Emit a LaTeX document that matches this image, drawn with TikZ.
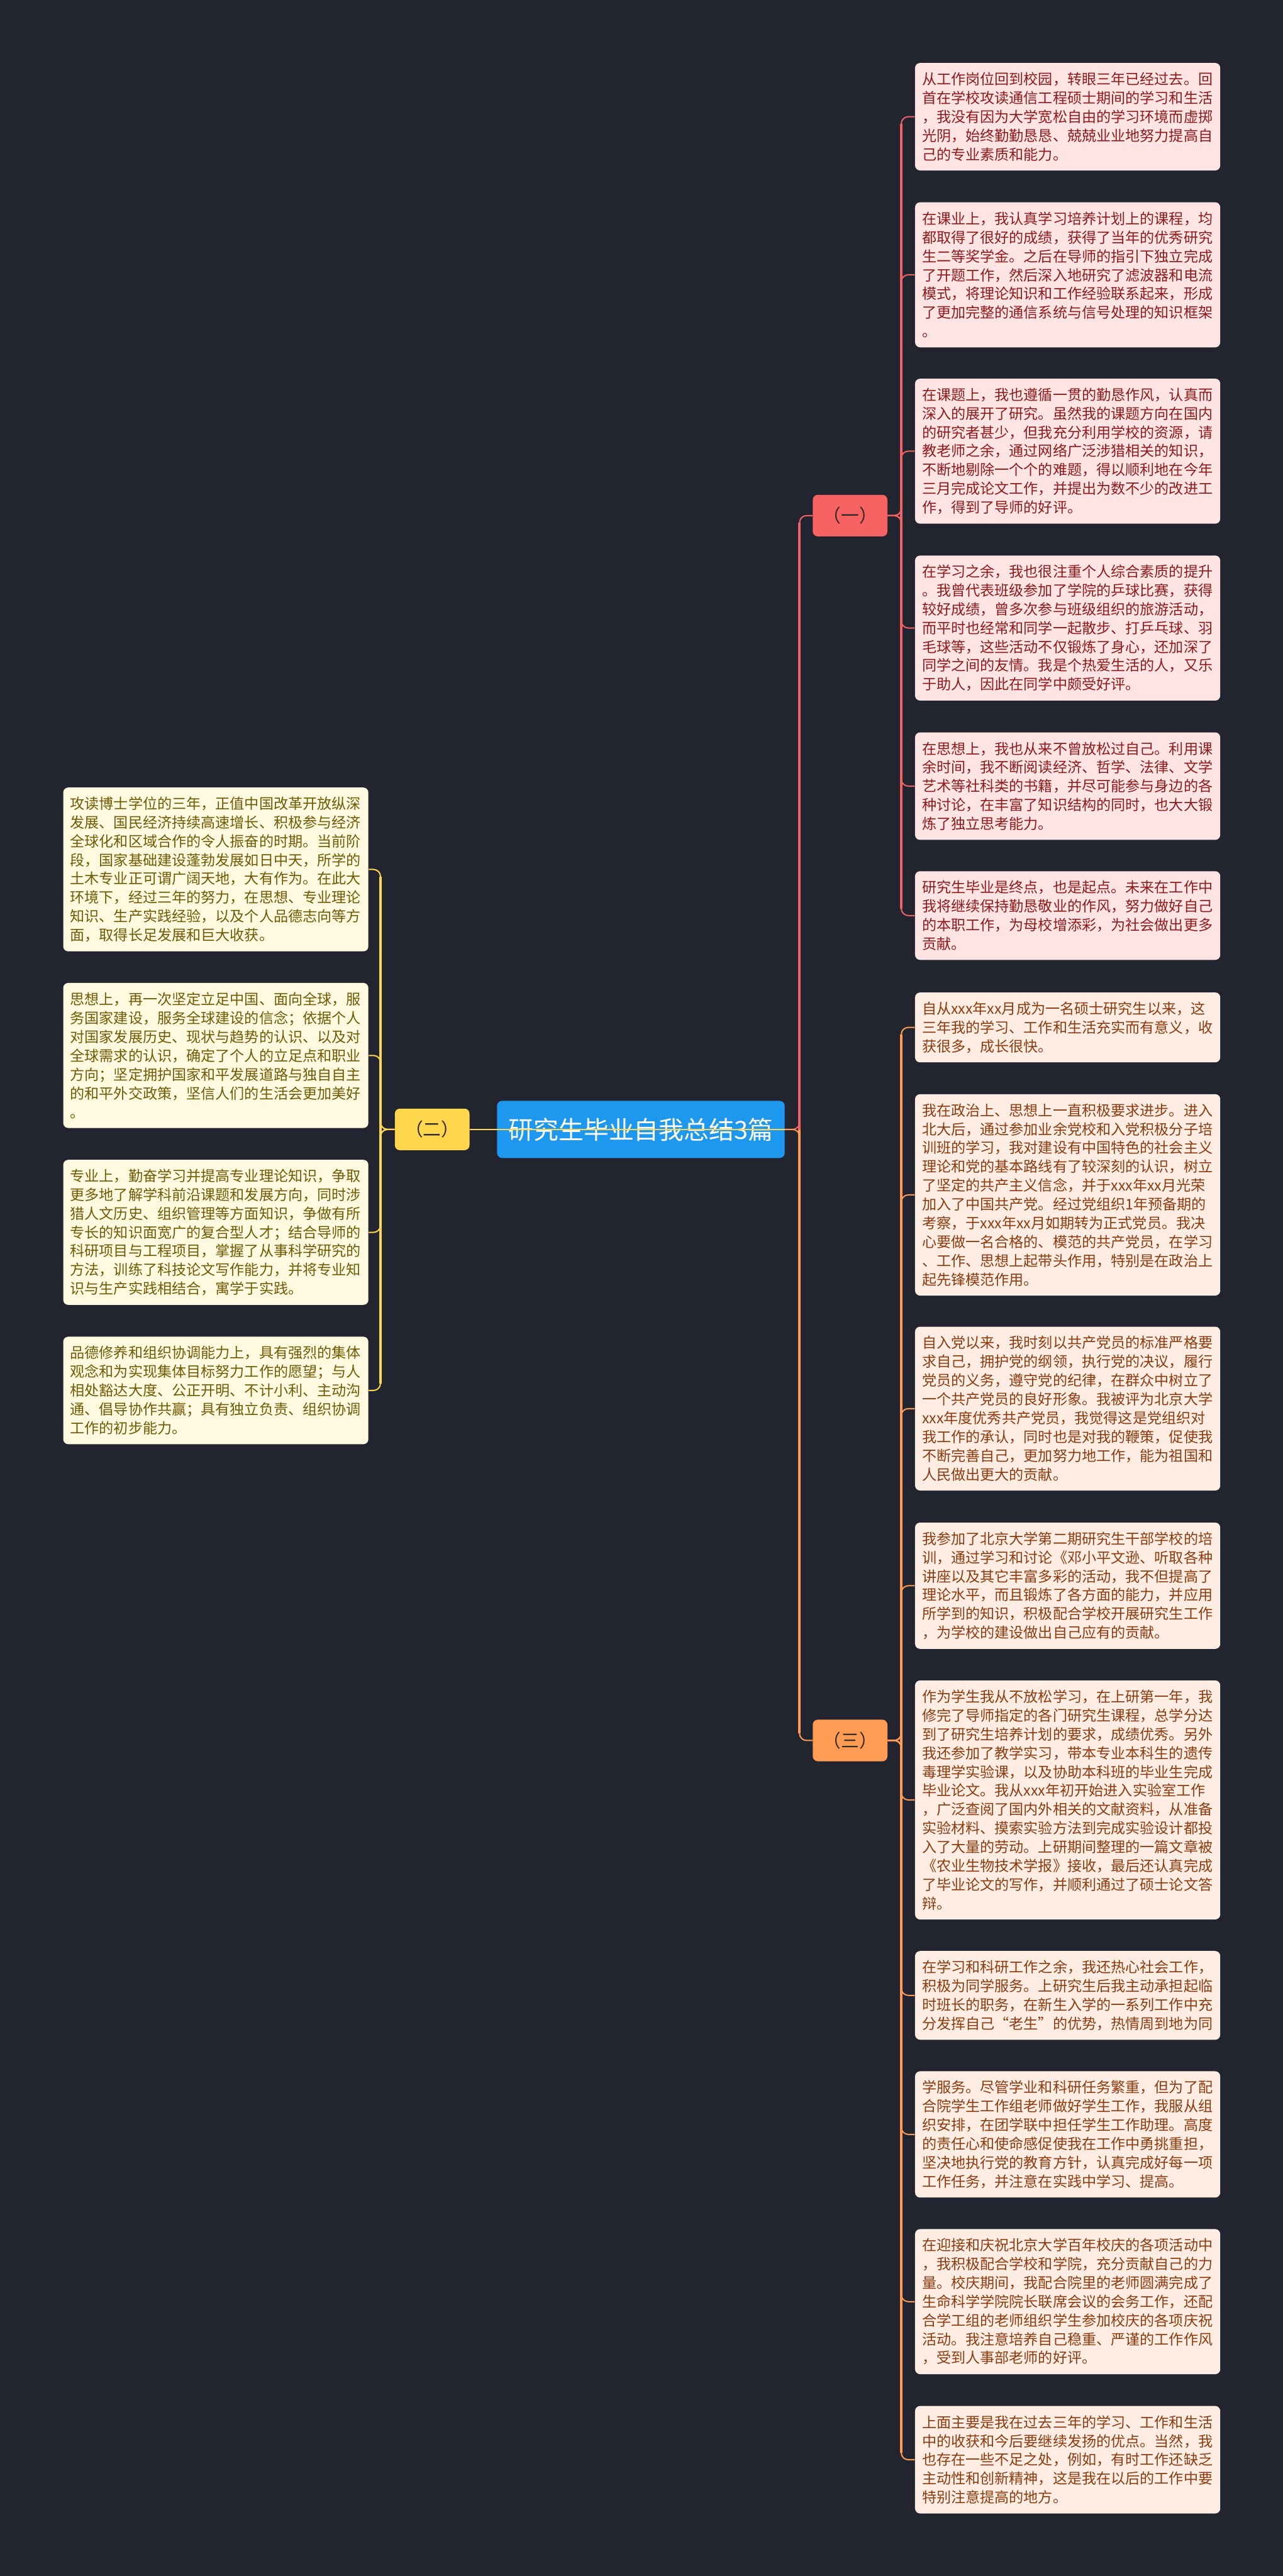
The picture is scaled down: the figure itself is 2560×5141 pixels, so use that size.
\documentclass[tikz,border=0pt]{standalone}
\usepackage{fontspec}
\setmainfont{Noto Sans CJK SC}
\usetikzlibrary{calc}
\definecolor{bgc}{HTML}{222530}
\definecolor{pinkfill}{HTML}{FFE4E4}
\definecolor{redtext}{HTML}{8E1B1B}
\definecolor{peachfill}{HTML}{FFEDE3}
\definecolor{browntext}{HTML}{8A3C10}
\definecolor{creamfill}{HTML}{FFF9DF}
\definecolor{olivetext}{HTML}{6F5B06}
\definecolor{tagred}{HTML}{F76262}
\definecolor{tagyellow}{HTML}{FFD64C}
\definecolor{tagorange}{HTML}{FF9B52}
\definecolor{titleblue}{HTML}{1E98EE}
\definecolor{tagtext}{HTML}{2E2A2A}
\definecolor{redline}{HTML}{F26262}
\definecolor{orangeline}{HTML}{FF9B52}
\definecolor{yellowline}{HTML}{FFD64C}
\begin{document}
\begin{tikzpicture}[x=0.3pt,y=-0.3pt,
  leaf/.style={anchor=north west, rounded corners=3pt, inner xsep=4.2pt, inner ysep=0pt,
    text width=174.3pt, align=left, font=\fontsize{8.7pt}{11.25pt}\selectfont},
  nlines/.style={minimum height=11.25pt*#1+8.1pt},
  redleaf/.style={leaf, fill=pinkfill, text=redtext},
  orangeleaf/.style={leaf, fill=peachfill, text=browntext},
  yellowleaf/.style={leaf, fill=creamfill, text=olivetext},
  tag/.style={rounded corners=3pt, minimum width=44.7pt, minimum height=24.9pt, inner sep=0pt,
    text=tagtext, font=\fontsize{10.8pt}{13pt}\selectfont},
  titlebox/.style={rounded corners=3pt, fill=titleblue, text=white, minimum width=172.2pt,
    minimum height=34.2pt, inner sep=0pt, font=\fontsize{15pt}{18pt}\selectfont},
  link/.style={line width=0.75pt, rounded corners=4.2pt},
  trunk/.style={line width=1.5pt},
]
\useasboundingbox (0,0) rectangle (2560,5141);
\fill[bgc] (0,0) rectangle (2560,5141);

% central and branch nodes
\node[titlebox] (title) at (1279,2254) {研究生毕业自我总结3篇};
\node[tag, fill=tagred] (one) at (1696.5,1029) {（一）};
\node[tag, fill=tagyellow] (two) at (862.5,2254) {（二）};
\node[tag, fill=tagorange] (three) at (1696.5,3473.5) {（三）};

% branch (一)
\node[redleaf, nlines=5] (r1) at (1825.5,125) {从工作岗位回到校园，转眼三年已经过去。回\\首在学校攻读通信工程硕士期间的学习和生活\\，我没有因为大学宽松自由的学习环境而虚掷\\光阴，始终勤勤恳恳、兢兢业业地努力提高自\\己的专业素质和能力。};
\node[redleaf, nlines=7] (r2) at (1825.5,403) {在课业上，我认真学习培养计划上的课程，均\\都取得了很好的成绩，获得了当年的优秀研究\\生二等奖学金。之后在导师的指引下独立完成\\了开题工作，然后深入地研究了滤波器和电流\\模式，将理论知识和工作经验联系起来，形成\\了更加完整的通信系统与信号处理的知识框架\\。};
\node[redleaf, nlines=7] (r3) at (1825.5,755) {在课题上，我也遵循一贯的勤恳作风，认真而\\深入的展开了研究。虽然我的课题方向在国内\\的研究者甚少，但我充分利用学校的资源，请\\教老师之余，通过网络广泛涉猎相关的知识，\\不断地剔除一个个的难题，得以顺利地在今年\\三月完成论文工作，并提出为数不少的改进工\\作，得到了导师的好评。};
\node[redleaf, nlines=7] (r4) at (1825.5,1108) {在学习之余，我也很注重个人综合素质的提升\\。我曾代表班级参加了学院的乒球比赛，获得\\较好成绩，曾多次参与班级组织的旅游活动，\\而平时也经常和同学一起散步、打乒乓球、羽\\毛球等，这些活动不仅锻炼了身心，还加深了\\同学之间的友情。我是个热爱生活的人，又乐\\于助人，因此在同学中颇受好评。};
\node[redleaf, nlines=5] (r5) at (1825.5,1461) {在思想上，我也从来不曾放松过自己。利用课\\余时间，我不断阅读经济、哲学、法律、文学\\艺术等社科类的书籍，并尽可能参与身边的各\\种讨论，在丰富了知识结构的同时，也大大锻\\炼了独立思考能力。};
\node[redleaf, nlines=4] (r6) at (1825.5,1738) {研究生毕业是终点，也是起点。未来在工作中\\我将继续保持勤恳敬业的作风，努力做好自己\\的本职工作，为母校增添彩，为社会做出更多\\贡献。};

% branch (三)
\node[orangeleaf, nlines=3] (r7) at (1825.5,1980) {自从xxx年xx月成为一名硕士研究生以来，这\\三年我的学习、工作和生活充实而有意义，收\\获很多，成长很快。};
\node[orangeleaf, nlines=10] (r8) at (1825.5,2183) {我在政治上、思想上一直积极要求进步。进入\\北大后，通过参加业余党校和入党积极分子培\\训班的学习，我对建设有中国特色的社会主义\\理论和党的基本路线有了较深刻的认识，树立\\了坚定的共产主义信念，并于xxx年xx月光荣\\加入了中国共产党。经过党组织1年预备期的\\考察，于xxx年xx月如期转为正式党员。我决\\心要做一名合格的、模范的共产党员，在学习\\、工作、思想上起带头作用，特别是在政治上\\起先锋模范作用。};
\node[orangeleaf, nlines=8] (r9) at (1825.5,2647) {自入党以来，我时刻以共产党员的标准严格要\\求自己，拥护党的纲领，执行党的决议，履行\\党员的义务，遵守党的纪律，在群众中树立了\\一个共产党员的良好形象。我被评为北京大学\\xxx年度优秀共产党员，我觉得这是党组织对\\我工作的承认，同时也是对我的鞭策，促使我\\不断完善自己，更加努力地工作，能为祖国和\\人民做出更大的贡献。};
\node[orangeleaf, nlines=6] (r10) at (1825.5,3038) {我参加了北京大学第二期研究生干部学校的培\\训，通过学习和讨论《邓小平文逊、听取各种\\讲座以及其它丰富多彩的活动，我不但提高了\\理论水平，而且锻炼了各方面的能力，并应用\\所学到的知识，积极配合学校开展研究生工作\\，为学校的建设做出自己应有的贡献。};
\node[orangeleaf, nlines=12] (r11) at (1825.5,3353) {作为学生我从不放松学习，在上研第一年，我\\修完了导师指定的各门研究生课程，总学分达\\到了研究生培养计划的要求，成绩优秀。另外\\我还参加了教学实习，带本专业本科生的遗传\\毒理学实验课，以及协助本科班的毕业生完成\\毕业论文。我从xxx年初开始进入实验室工作\\，广泛查阅了国内外相关的文献资料，从准备\\实验材料、摸索实验方法到完成实验设计都投\\入了大量的劳动。上研期间整理的一篇文章被\\《农业生物技术学报》接收，最后还认真完成\\了毕业论文的写作，并顺利通过了硕士论文答\\辩。};
\node[orangeleaf, nlines=4] (r12) at (1825.5,3893) {在学习和科研工作之余，我还热心社会工作，\\积极为同学服务。上研究生后我主动承担起临\\时班长的职务，在新生入学的一系列工作中充\\分发挥自己“老生”的优势，热情周到地为同};
\node[orangeleaf, nlines=6] (r13) at (1825.5,4133) {学服务。尽管学业和科研任务繁重，但为了配\\合院学生工作组老师做好学生工作，我服从组\\织安排，在团学联中担任学生工作助理。高度\\的责任心和使命感促使我在工作中勇挑重担，\\坚决地执行党的教育方针，认真完成好每一项\\工作任务，并注意在实践中学习、提高。};
\node[orangeleaf, nlines=7] (r14) at (1825.5,4448) {在迎接和庆祝北京大学百年校庆的各项活动中\\，我积极配合学校和学院，充分贡献自己的力\\量。校庆期间，我配合院里的老师圆满完成了\\生命科学学院院长联席会议的会务工作，还配\\合学工组的老师组织学生参加校庆的各项庆祝\\活动。我注意培养自己稳重、严谨的工作作风\\，受到人事部老师的好评。};
\node[orangeleaf, nlines=5] (r15) at (1825.5,4801) {上面主要是我在过去三年的学习、工作和生活\\中的收获和今后要继续发扬的优点。当然，我\\也存在一些不足之处，例如，有时工作还缺乏\\主动性和创新精神，这是我在以后的工作中要\\特别注意提高的地方。};

% branch (二)
\node[yellowleaf, nlines=8] (l1) at (125.5,1571) {攻读博士学位的三年，正值中国改革开放纵深\\发展、国民经济持续高速增长、积极参与经济\\全球化和区域合作的令人振奋的时期。当前阶\\段，国家基础建设蓬勃发展如日中天，所学的\\土木专业正可谓广阔天地，大有作为。在此大\\环境下，经过三年的努力，在思想、专业理论\\知识、生产实践经验，以及个人品德志向等方\\面，取得长足发展和巨大收获。};
\node[yellowleaf, nlines=7] (l2) at (125.5,1961) {思想上，再一次坚定立足中国、面向全球，服\\务国家建设，服务全球建设的信念；依据个人\\对国家发展历史、现状与趋势的认识、以及对\\全球需求的认识，确定了个人的立足点和职业\\方向；坚定拥护国家和平发展道路与独自自主\\的和平外交政策，坚信人们的生活会更加美好\\。};
\node[yellowleaf, nlines=7] (l3) at (125.5,2314) {专业上，勤奋学习并提高专业理论知识，争取\\更多地了解学科前沿课题和发展方向，同时涉\\猎人文历史、组织管理等方面知识，争做有所\\专长的知识面宽广的复合型人才；结合导师的\\科研项目与工程项目，掌握了从事科学研究的\\方法，训练了科技论文写作能力，并将专业知\\识与生产实践相结合，寓学于实践。};
\node[yellowleaf, nlines=5] (l4) at (125.5,2667) {品德修养和组织协调能力上，具有强烈的集体\\观念和为实现集体目标努力工作的愿望；与人\\相处豁达大度、公正开明、不计小利、主动沟\\通、倡导协作共赢；具有独立负责、组织协调\\工作的初步能力。};

% junction coordinates
\coordinate (jr) at ($(title.east)+(29,0)$);
\coordinate (ja) at ($(one.east)+(27,0)$);
\coordinate (jc) at ($(three.east)+(27,0)$);
\coordinate (jl) at ($(two.west)+(-28,0)$);

% main connectors
\draw[link, yellowline] (title.east) -- (two.east);
\draw[link, redline] (title.east) -- (jr) |- (one.west);
\draw[link, orangeline] (title.east) -- (jr) |- (three.west);
\draw[redline, trunk, shorten >=4.2pt] (jr) -- (jr |- one.west);
\draw[orangeline, trunk, shorten >=4.2pt] (jr) -- (jr |- three.west);

% (一) children
\foreach \c in {r1,r2,r3,r4,r5,r6}
  \draw[link, redline] (one.east) -- (ja) |- (\c.west);
\draw[redline, trunk, shorten <=4.2pt, shorten >=4.2pt] (ja |- r1.west) -- (ja |- r6.west);

% (三) children
\foreach \c in {r7,r8,r9,r10,r11,r12,r13,r14,r15}
  \draw[link, orangeline] (three.east) -- (jc) |- (\c.west);
\draw[orangeline, trunk, shorten <=4.2pt, shorten >=4.2pt] (jc |- r7.west) -- (jc |- r15.west);

% (二) children
\foreach \c in {l1,l2,l3,l4}
  \draw[link, yellowline] (two.west) -- (jl) |- (\c.east);
\draw[yellowline, trunk, shorten <=4.2pt, shorten >=4.2pt] (jl |- l1.east) -- (jl |- l4.east);
\end{tikzpicture}
\end{document}
